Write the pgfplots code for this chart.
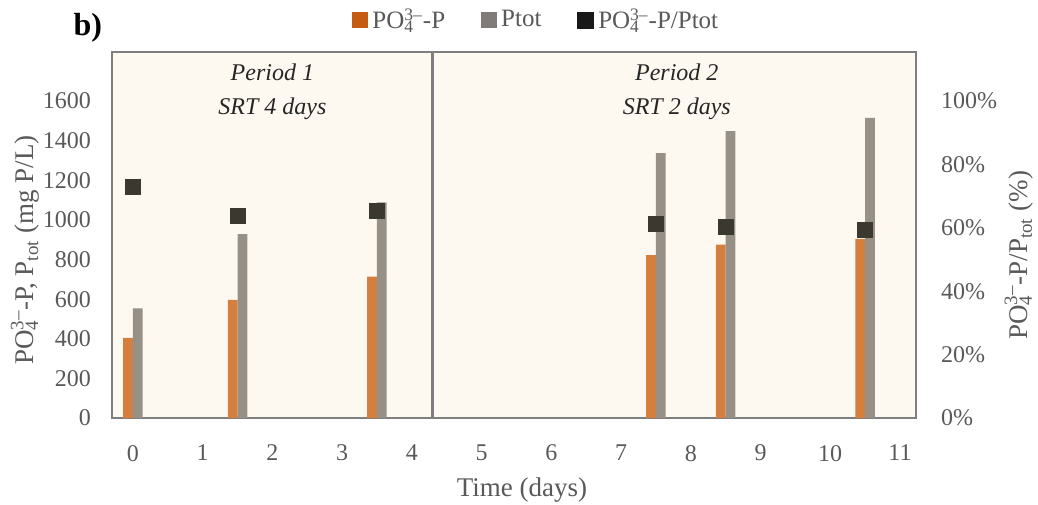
\documentclass[border=0pt]{standalone}
\usepackage{fontspec}
\setmainfont{Liberation Serif}
\usepackage{pgfplots}
\pgfplotsset{compat=1.18}
\definecolor{bgc}{HTML}{FEF9F0}
\definecolor{borderc}{HTML}{7F7F7F}
\definecolor{barorange}{HTML}{D57F3E}
\definecolor{bargray}{HTML}{979087}
\definecolor{legorange}{HTML}{C55A11}
\definecolor{leggray}{HTML}{7F7C79}
\definecolor{markc}{HTML}{3B3830}
\definecolor{tickc}{HTML}{595959}
\newcommand{\po}{PO\rlap{\textsubscript{4}}\textsuperscript{3–}}
\newcommand{\labfont}{\fontsize{13.5}{16}\selectfont}

\begin{document}
\begin{tikzpicture}
\pgfplotsset{
  base/.style={scale only axis,width=402pt,height=183pt,
    xmin=-0.3,xmax=11.23,ymin=0,
    major tick length=0pt,
    /pgf/number format/assume math mode=true,
    /pgf/number format/1000 sep={},
    tick label style={font=\fontsize{12}{14}\selectfont,text=tickc}},
}
\begin{axis}[base,at={(0,0)},anchor=south west,
  ymax=1848,ytick={0,200,...,1600},xtick={0,...,11},
  axis background/.style={fill=bgc},
  axis line style={draw=borderc,line width=1.3pt},
  xticklabel style={yshift=-10pt},
  yticklabel style={xshift=-7pt},
  xlabel={Time (days)},
  every axis x label/.style={at={(axis description cs:0.51,0)},anchor=center,yshift=-36pt,
    font=\labfont,text=tickc},
  ylabel={\po-P, P\textsubscript{tot} (mg P/L)},
  every axis y label/.style={at={(axis description cs:-0.108,0.459)},anchor=center,rotate=90,
    font=\labfont,text=tickc},
  legend style={at={(axis description cs:0.529,1.087)},anchor=center,draw=none,fill=none,
    legend columns=3,font=\fontsize{12.5}{15}\selectfont,text=tickc,
    /tikz/every even column/.append style={column sep=16pt}},
  clip=false]
\addplot[ybar,bar width=0.14,bar shift=-0.07,fill=barorange,draw=none,
  legend image code/.code={\fill[legorange] (0pt,-4pt) rectangle (8pt,4pt);}]
  coordinates {(0,405)(1.5,597)(3.5,714)(7.5,823)(8.5,875)(10.5,904)};
\addlegendentry{\po-P}
\addplot[ybar,bar width=0.14,bar shift=0.07,fill=bargray,draw=none,
  legend image code/.code={\fill[leggray] (0pt,-4pt) rectangle (8pt,4pt);}]
  coordinates {(0,554)(1.5,928)(3.5,1089)(7.5,1337)(8.5,1449)(10.5,1516)};
\addlegendentry{Ptot}
\addlegendimage{legend image code/.code={\fill[black!90] (0pt,-4pt) rectangle (8pt,4pt);}}
\addlegendentry{\po-P/Ptot}
\draw[borderc,line width=1.3pt] (axis cs:4.3,0) -- (axis cs:4.3,1848);
\node[font=\itshape\fontsize{12}{14}\selectfont,text=black!85] at (axis cs:2,1747) {Period 1};
\node[font=\itshape\fontsize{12}{14}\selectfont,text=black!85] at (axis cs:2,1560) {SRT 4 days};
\node[font=\itshape\fontsize{12}{14}\selectfont,text=black!85] at (axis cs:7.8,1747) {Period 2};
\node[font=\itshape\fontsize{12}{14}\selectfont,text=black!85] at (axis cs:7.8,1560) {SRT 2 days};
\node[font=\bfseries\fontsize{16}{18}\selectfont] at (axis description cs:-0.03,1.066) {b)};
\end{axis}
\begin{axis}[base,at={(0,0)},anchor=south west,
  ymax=1.155,ytick={0,0.2,0.4,0.6,0.8,1},
  yticklabels={0\%,20\%,40\%,60\%,80\%,100\%},
  axis x line=none,axis y line*=right,
  y axis line style={draw=none},
  yticklabel style={xshift=9pt},
  ylabel={\po-P/P\textsubscript{tot} (\%)},
  every axis y label/.style={at={(axis description cs:1.128,0.445)},anchor=center,rotate=90,
    font=\labfont,text=tickc}]
\addplot[only marks,mark=square*,mark size=3.75pt,color=markc]
  coordinates {(0,0.729)(1.5,0.637)(3.5,0.653)(7.5,0.613)(8.5,0.602)(10.5,0.595)};
\end{axis}
\pgfresetboundingbox
\path (-56pt,-43pt) rectangle (463pt,209pt);
\end{tikzpicture}
\end{document}
